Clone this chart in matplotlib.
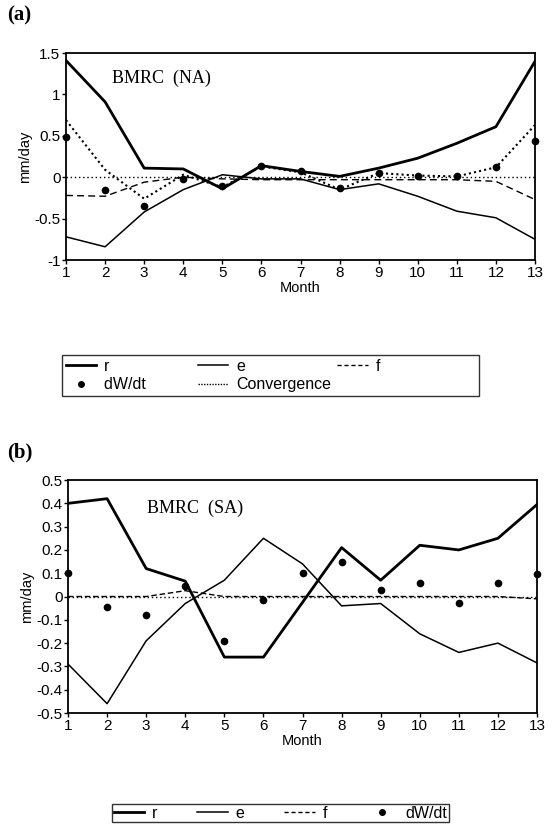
import numpy as np
import matplotlib
matplotlib.use("Agg")
import matplotlib.pyplot as plt
from matplotlib.lines import Line2D

# ==========================================
# 1. DONNEES
# ==========================================
months = np.arange(1, 14)

# Panneau (a) : BMRC (NA)
r_na = [1.41, 0.91, 0.11, 0.10, -0.14, 0.14, 0.07, 0.01, 0.11, 0.23, 0.41, 0.61, 1.40]
e_na = [-0.72, -0.84, -0.42, -0.15, 0.03, -0.02, -0.02, -0.15, -0.08, -0.23, -0.41, -0.49, -0.75]
f_na = [-0.22, -0.23, -0.06, 0.0, -0.02, -0.03, -0.03, -0.03, -0.03, -0.03, -0.03, -0.05, -0.27]
conv_na = [0.69, 0.09, -0.26, 0.03, -0.12, 0.13, 0.06, -0.15, 0.05, 0.02, 0.01, 0.12, 0.63]
dwdt_na = [0.48, -0.16, -0.35, -0.02, -0.11, 0.13, 0.07, -0.13, 0.05, 0.02, 0.01, 0.12, 0.44]

# Panneau (b) : BMRC (SA)
r_sa = [0.40, 0.42, 0.12, 0.066, -0.26, -0.26, -0.025, 0.21, 0.07, 0.22, 0.20, 0.25, 0.395]
e_sa = [-0.29, -0.46, -0.19, -0.03, 0.07, 0.25, 0.14, -0.04, -0.03, -0.16, -0.24, -0.20, -0.285]
f_sa = [0.0, 0.0, 0.0, 0.025, 0.0, 0.0, 0.0, 0.0, 0.0, 0.0, 0.0, 0.0, -0.01]
dwdt_sa = [0.10, -0.046, -0.08, 0.044, -0.19, -0.013, 0.10, 0.15, 0.026, 0.056, -0.027, 0.056, 0.097]

TICK_FONT = "Liberation Sans"
SERIF = "Liberation Serif"

# ==========================================
# 2. FIGURE
# ==========================================
fig = plt.figure(figsize=(5.58, 8.35), dpi=100)
ax_a = fig.add_axes([0.1183, 0.6886, 0.8405, 0.2479])
ax_b = fig.add_axes([0.1219, 0.1461, 0.8405, 0.2790])


def style_axes(ax, yticks, ylim):
    ax.set_xlim(1, 13)
    ax.set_ylim(*ylim)
    ax.set_xticks(months)
    ax.set_yticks(yticks)
    ax.set_yticklabels([("%g" % t) for t in yticks])
    ax.tick_params(direction="out", length=3, width=1, labelsize=11, pad=1)
    for lab in ax.get_xticklabels() + ax.get_yticklabels():
        lab.set_family(TICK_FONT)
    for sp in ax.spines.values():
        sp.set_linewidth(1.3)
    ax.set_xlabel("Month", family=TICK_FONT, fontsize=10.5, labelpad=1)
    ax.set_ylabel("mm/day", family=TICK_FONT, fontsize=10.5, labelpad=2)


# ---- Panneau (a)
ax_a.plot(months, r_na, color="black", lw=2.0)
ax_a.plot(months, e_na, color="black", lw=1.1)
ax_a.plot(months, f_na, color="black", lw=1.0, ls=(0, (5, 3)))
ax_a.plot(months, conv_na, color="black", lw=1.5, ls=(0, (1, 1.5)))
ax_a.axhline(0, color="black", lw=1.0, ls=(0, (1, 2)))
ax_a.plot(months, dwdt_na, ls="none", marker="o", ms=4.5, color="black", clip_on=False)
style_axes(ax_a, [-1, -0.5, 0, 0.5, 1, 1.5], (-1, 1.5))
ax_a.text(0.098, 0.88, "BMRC  (NA)", transform=ax_a.transAxes, family=SERIF,
          fontsize=13, va="center")
fig.text(0.012, 0.982, "(a)", family=SERIF, fontweight="bold", fontsize=15, va="center")

# ---- Panneau (b)
ax_b.plot(months, r_sa, color="black", lw=2.0)
ax_b.plot(months, e_sa, color="black", lw=1.1)
ax_b.axhline(0, color="black", lw=1.0, ls=(0, (1, 2)))
ax_b.plot(months, f_sa, color="black", lw=1.0, ls=(0, (4, 2)))
ax_b.plot(months, dwdt_sa, ls="none", marker="o", ms=4.5, color="black", clip_on=False)
style_axes(ax_b, [-0.5, -0.4, -0.3, -0.2, -0.1, 0, 0.1, 0.2, 0.3, 0.4, 0.5], (-0.5, 0.5))
ax_b.text(0.168, 0.88, "BMRC  (SA)", transform=ax_b.transAxes, family=SERIF,
          fontsize=13, va="center")
fig.text(0.012, 0.4587, "(b)", family=SERIF, fontweight="bold", fontsize=15, va="center")

# ==========================================
# 3. LEGENDES
# ==========================================
h_r = Line2D([], [], color="black", lw=2.0)
h_e = Line2D([], [], color="black", lw=1.1)
h_f = Line2D([], [], color="black", lw=1.0, ls=(0, (3, 2)))
h_w = Line2D([], [], color="black", ls="none", marker="o", ms=4)
h_c = Line2D([], [], color="black", lw=1.0, ls=(0, (1, 1)))

leg_a = fig.legend([h_r, h_w, h_e, h_c, h_f],
                   ["r", "dW/dt" + " " * 10, "e", "Convergence", "f" + " " * 21],
                   ncol=3, loc="upper left", bbox_to_anchor=(62 / 558, 1 - 355 / 835),
                   prop={"family": TICK_FONT, "size": 11.5}, frameon=True, fancybox=False,
                   handlelength=1.9, handletextpad=0.5, columnspacing=0.4,
                   labelspacing=0.2, borderpad=0.25, borderaxespad=0)
leg_a.get_frame().set_edgecolor("black")
leg_a.get_frame().set_linewidth(1.0)

leg_b = fig.legend([h_r, h_e, h_f, h_w], ["r", "e", "f", "dW/dt"],
                   ncol=4, loc="upper left", bbox_to_anchor=(112 / 558, 1 - 804 / 835),
                   prop={"family": TICK_FONT, "size": 11.5}, frameon=True, fancybox=False,
                   handlelength=1.9, handletextpad=0.5, columnspacing=2.5,
                   borderpad=0.1, borderaxespad=0)
leg_b.get_frame().set_edgecolor("black")
leg_b.get_frame().set_linewidth(1.0)

fig.savefig("out.png", dpi=100)
